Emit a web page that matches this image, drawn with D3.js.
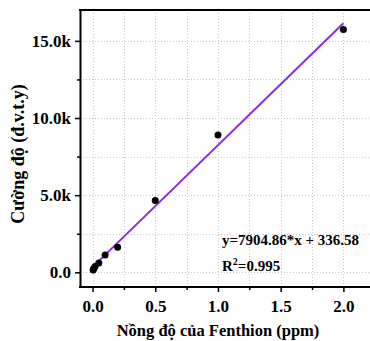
<!DOCTYPE html>
<html>
<head>
<meta charset="utf-8">
<script src="https://cdn.jsdelivr.net/npm/d3@7"></script>
<style>
  body { margin: 0; background: #fff; }
  svg text { font-family: "Liberation Serif", "DejaVu Serif", serif; font-weight: bold; }
</style>
</head>
<body>
<script>
// concentrations (ppm) and measured intensities
var conc = [0.005, 0.01, 0.02, 0.05, 0.1, 0.2, 0.5, 1.0, 2.0];
var intensity = [150, 250, 380, 600, 1130, 1620, 4650, 8900, 15740];
var slope = 7904.86, intercept = 336.58;
var xTicks = [0, 0.5, 1, 1.5, 2];
var xMinor = [0.25, 0.75, 1.25, 1.75];
var yTicks = [0, 5000, 10000, 15000];
var yMinor = [2500, 7500, 12500];
var eqText = "y=7904.86*x + 336.58";
var r2 = "0.995";

var W = 370, H = 341;
var pLeft = 80, pRight = 371, pTop = 10, pBottom = 287;

var svg = d3.select("body").append("svg").attr("width", W).attr("height", H);

var x = d3.scaleLinear().domain([-0.1, 2.22]).range([pLeft, pRight]);
var y = d3.scaleLinear().domain([-950, 17000]).range([pBottom, pTop]);

// grid
var grid = svg.append("g").attr("stroke", "#c8c8c8").attr("stroke-width", 1).attr("stroke-dasharray", "1,2");
grid.selectAll("line.gx").data(xTicks.concat(xMinor)).enter().append("line")
    .attr("x1", d => Math.round(x(d)) + 0.5).attr("x2", d => Math.round(x(d)) + 0.5)
    .attr("y1", pTop).attr("y2", pBottom);
grid.selectAll("line.gy").data(yTicks.concat(yMinor)).enter().append("line")
    .attr("y1", d => Math.round(y(d)) + 0.5).attr("y2", d => Math.round(y(d)) + 0.5)
    .attr("x1", pLeft).attr("x2", pRight);

// top frame
svg.append("line").attr("x1", pLeft - 1).attr("x2", W).attr("y1", pTop).attr("y2", pTop)
    .attr("stroke", "#000").attr("stroke-width", 2);

// axes
var fmtY = function(d) { return d === 0 ? "0.0" : (d / 1000).toFixed(1) + "k"; };

var gx = svg.append("g").attr("transform", "translate(0," + pBottom + ")")
    .call(d3.axisBottom(x).tickValues(xTicks).tickFormat(d3.format(".1f")).tickSize(5).tickSizeOuter(0));
svg.append("g").attr("transform", "translate(0," + pBottom + ")")
    .call(d3.axisBottom(x).tickValues(xMinor).tickFormat("").tickSize(3).tickSizeOuter(0))
    .select(".domain").remove();
var gy = svg.append("g").attr("transform", "translate(" + pLeft + ",0)")
    .call(d3.axisLeft(y).tickValues(yTicks).tickFormat(fmtY).tickSize(5).tickSizeOuter(0));
svg.append("g").attr("transform", "translate(" + pLeft + ",0)")
    .call(d3.axisLeft(y).tickValues(yMinor).tickFormat("").tickSize(3).tickSizeOuter(0))
    .select(".domain").remove();

svg.selectAll(".domain").attr("stroke-width", 2);
svg.selectAll(".tick line").attr("stroke-width", 1.5);
gx.selectAll(".tick text").attr("font-size", 17).attr("dy", "1.0em").attr("fill", "#000");
gy.selectAll(".tick text").attr("font-size", 17).attr("dx", "-1px").attr("fill", "#000");
gx.selectAll("text").style("font-family", "Liberation Serif").style("font-weight", "bold");
gy.selectAll("text").style("font-family", "Liberation Serif").style("font-weight", "bold");
gx.select(".domain").attr("d", "M" + (pLeft - 1) + ",0H" + W);

// fit line
svg.append("line")
    .attr("x1", x(0)).attr("y1", y(intercept))
    .attr("x2", x(2)).attr("y2", y(slope * 2 + intercept))
    .attr("stroke", "#8a2be2").attr("stroke-width", 2);

// points
svg.selectAll("circle.pt").data(conc).enter().append("circle")
    .attr("cx", d => x(d)).attr("cy", (d, i) => y(intensity[i]))
    .attr("r", 3.5).attr("fill", "#000");

// equation
svg.append("text").attr("x", 222).attr("y", 245).attr("font-size", 15).text(eqText);
var r = svg.append("text").attr("x", 222).attr("y", 271).attr("font-size", 15);
r.append("tspan").text("R");
r.append("tspan").attr("dy", -6).attr("font-size", 10).text("2");
r.append("tspan").attr("dy", 6).text("=" + r2);

// axis titles
svg.append("text").attr("x", 218).attr("y", 336).attr("text-anchor", "middle")
    .attr("font-size", 16.5).text("Nồng độ của Fenthion (ppm)");
svg.append("text").attr("transform", "translate(24,154) rotate(-90)").attr("text-anchor", "middle")
    .attr("font-size", 18).text("Cường độ (đ.v.t.y)");
</script>
</body>
</html>
